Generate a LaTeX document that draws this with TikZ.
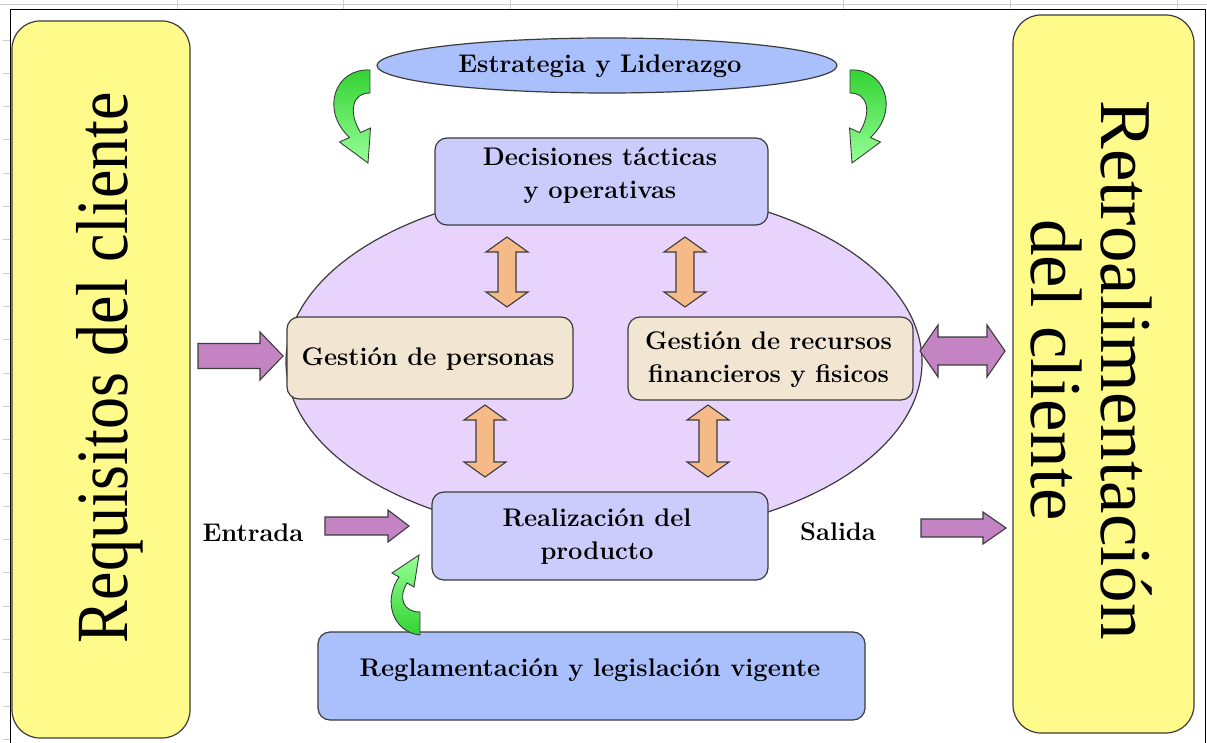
\documentclass[tikz,border=0pt]{standalone}
\usepackage{fontspec}
\usepackage{graphicx}
\newfontfamily\bigserif{Liberation Serif}
\usetikzlibrary{shapes.geometric}

\definecolor{linec}{RGB}{60,60,60}
\definecolor{sideyellow}{RGB}{255,251,138}
\definecolor{stratblue}{RGB}{170,192,252}
\definecolor{lavender}{RGB}{204,204,252}
\definecolor{coreviolet}{RGB}{232,211,252}
\definecolor{beige}{RGB}{242,230,210}
\definecolor{peach}{RGB}{245,186,136}
\definecolor{plum}{RGB}{196,132,196}
\definecolor{leafdark}{RGB}{50,210,50}
\definecolor{leaflight}{RGB}{150,255,150}
\definecolor{gridgray}{RGB}{205,205,205}

% vertical double block arrow: x, top tip y, bottom tip y
\newcommand{\peacharrow}[3]{%
  \draw[peachshape] (#1,#2) -- ++(21,15) -- ++(-12,0) -- (#1+9,#3-15) -- ++(12,0)
    -- (#1,#3) -- ++(-21,-15) -- ++(12,0) -- (#1-9,#2+15) -- ++(-12,0) -- cycle;}
% right block arrow: x1, x2, y, shaft half width, head half width, head length
\newcommand{\plumarrow}[6]{%
  \draw[plumshape] (#1,#3-#4) -- (#2-#6,#3-#4) -- (#2-#6,#3-#5) -- (#2,#3)
    -- (#2-#6,#3+#5) -- (#2-#6,#3+#4) -- (#1,#3+#4) -- cycle;}
% horizontal double block arrow: x1, x2, y, shaft half width, head half width, head length
\newcommand{\plumdouble}[6]{%
  \draw[plumshape] (#1,#3) -- (#1+#6,#3-#5) -- (#1+#6,#3-#4) -- (#2-#6,#3-#4)
    -- (#2-#6,#3-#5) -- (#2,#3) -- (#2-#6,#3+#5) -- (#2-#6,#3+#4)
    -- (#1+#6,#3+#4) -- (#1+#6,#3+#5) -- cycle;}

\begin{document}
\begin{tikzpicture}[x=1pt,y=-1pt,
  outline/.style={draw=linec,line width=1.2pt},
  sidebox/.style={outline,fill=sideyellow,rounded corners=28pt,inner sep=0pt},
  roundbox/.style={outline,rounded corners=12pt,inner sep=0pt},
  oval/.style={ellipse,outline,inner sep=0pt},
  lbl/.style={font=\fontsize{25.5}{33}\selectfont\bfseries,align=center,inner sep=0pt},
  peachshape/.style={draw=linec,line width=1.1pt,fill=peach,line join=miter},
  plumshape/.style={draw=linec,line width=1.1pt,fill=plum},
  leafdown/.style={draw=linec,line width=0.9pt,top color=leafdark,bottom color=leaflight},
  leafup/.style={draw=linec,line width=0.9pt,top color=leaflight,bottom color=leafdark}]

\useasboundingbox (0,0) rectangle (1207,743);
\fill[white] (0,0) rectangle (1207,743);

% sheet grid remnants and frame
\draw[gridgray,line width=0.8pt] (0,4) -- (1207,4);
\foreach \gx in {177,343,510,677,843,1010,1177}
  \draw[gridgray,line width=0.8pt] (\gx,0) -- (\gx,9);
\foreach \gy in {40,73.3,...,740}
  \draw[gridgray,line width=0.8pt] (3,\gy) -- (10,\gy);
\draw[black,line width=1pt] (10,743) -- (10,10) -- (1205,10) -- (1205,743);

% side panels
\node[sidebox,minimum width=178,minimum height=717] (req) at (101,379.5) {};
\node[sidebox,minimum width=181,minimum height=718] (ret) at (1103.5,374) {};
\node[rotate=90,inner sep=0pt] (reqtext) at (110,367.5)
  {\scalebox{1}[1.15]{\bigserif\fontsize{64}{70}\selectfont Requisitos del cliente}};
\node[rotate=-90,align=center,inner sep=0pt,font=\bigserif\fontsize{73}{70}\selectfont]
  (rettext) at (1092,370) {Retroalimentación\\del cliente};

% central management cycle
\node[oval,fill=coreviolet,minimum width=636,minimum height=350] (core) at (604,362) {};
\node[oval,fill=stratblue,minimum width=460,minimum height=55] (estr) at (607,65.5) {};
\node[lbl] (estrtext) at (600,66) {Estrategia y Liderazgo};

\peacharrow{507}{237}{307}
\peacharrow{685}{237}{307}
\peacharrow{485}{405}{477}
\peacharrow{708}{405}{477}

\node[roundbox,fill=lavender,minimum width=333,minimum height=87] (dec) at (601.5,181.5) {};
\node[lbl] (dectext) at (600,176) {Decisiones tácticas\\y operativas};

\node[roundbox,fill=beige,minimum width=286,minimum height=82] (gp) at (430,358) {};
\node[lbl] (gptext) at (428,359) {Gestión de personas};

\node[roundbox,fill=beige,minimum width=285,minimum height=83] (gr) at (770.5,358.5) {};
\node[lbl] (grtext) at (768.5,360) {Gestión de recursos\\financieros y fisicos};

\node[roundbox,fill=lavender,minimum width=336,minimum height=88] (real) at (600,536) {};
\node[lbl] (realtext) at (597,536) {Realización del\\producto};

\node[roundbox,fill=stratblue,minimum width=547,minimum height=88] (regl) at (591.5,676) {};
\node[lbl] (regltext) at (590,670) {Reglamentación y legislación vigente};

\node[lbl] (entrada) at (253,533) {Entrada};
\node[lbl] (salida) at (838,532) {Salida};

% flow arrows
\plumarrow{198}{283}{356}{12.5}{24}{23}
\plumdouble{920}{1005}{351}{14}{26}{18}
\plumarrow{325}{409}{526}{9}{16}{21}
\plumarrow{921}{1006}{528}{9}{16}{23}

% curved strategy and regulation arrows
\draw[leafdown] (370,70) .. controls (335,68) and (320,110) .. (349.5,137.5)
  -- (339.5,142) -- (368,163) -- (370.5,128) -- (360.5,132.5)
  .. controls (348,112) and (352,93) .. (370,93) -- cycle;
\draw[leafdown] (850,70) .. controls (885,68) and (900,110) .. (870.5,137.5)
  -- (880.5,142) -- (852,163) -- (849.5,128) -- (859.5,132.5)
  .. controls (872,112) and (868,93) .. (850,93) -- cycle;
\draw[leafup] (420,635) .. controls (392,632) and (383,600) .. (399,577)
  -- (392,573) -- (419,555) -- (414,587) -- (407,583)
  .. controls (398,598) and (403,612) .. (420,612) -- cycle;
\end{tikzpicture}
\end{document}
